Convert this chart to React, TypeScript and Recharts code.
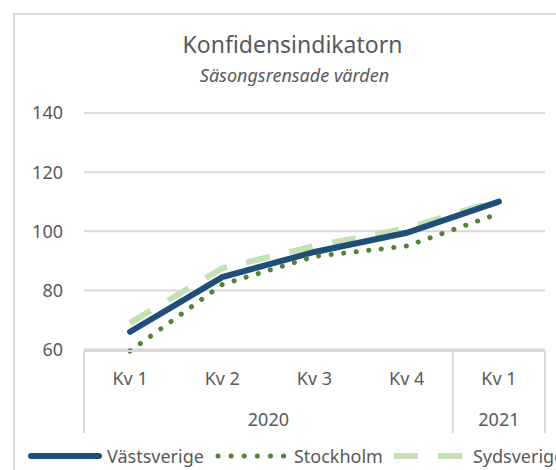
import React from 'react'
import { LineChart, Line, XAxis, YAxis, CartesianGrid, Legend } from 'recharts'

const quarters = ['Kv 1', 'Kv 2', 'Kv 3', 'Kv 4', 'Kv 1']
const years = ['2020', '2020', '2020', '2020', '2021']
const vastsverige = [66, 84.5, 93, 99.5, 110]
const stockholm = [59.5, 82, 91.5, 95, 106]
const sydsverige = [69, 87.5, 95, 101, 110.5]
const yTicks = [60, 80, 100, 120, 140]

const data = quarters.map((q, i) => ({
  q,
  year: years[i],
  Västsverige: vastsverige[i],
  Stockholm: stockholm[i],
  Sydsverige: sydsverige[i]
}))

const FONT = '"Noto Sans", "Open Sans", sans-serif'
const TEXT = '#595959'
const GRID = '#d9d9d9'

const W = 556
const H = 470
const Y_W = 84
const M_RIGHT = 11
const PLOT_W = W - Y_W - M_RIGHT
const HALF_BAND = PLOT_W / quarters.length / 2

const series = [
  { key: 'Västsverige', color: '#1f4e79', width: 6, dash: undefined as string | undefined, cap: 'round' as const },
  { key: 'Stockholm', color: '#548235', width: 5, dash: '0.1 13', cap: 'round' as const },
  { key: 'Sydsverige', color: '#c5e0b4', width: 6, dash: '24 20', cap: 'butt' as const }
]

// two level category axis: quarter on top, year below, with group separators
function QuarterTick(props: any) {
  const { x, y, index, payload } = props
  const band = HALF_BAND * 2
  const year = years[index]
  const first = index === 0 || years[index - 1] !== year
  const last = index === years.length - 1
  let size = 0
  for (let j = index; j < years.length && years[j] === year; j++) size++
  return (
    <g>
      <text x={x} y={y + 34} textAnchor="middle" fill={TEXT} fontSize={18} fontFamily={FONT}>
        {payload.value}
      </text>
      {first && (
        <>
          <text x={x + ((size - 1) / 2) * band} y={y + 75} textAnchor="middle" fill={TEXT} fontSize={18} fontFamily={FONT}>
            {year}
          </text>
          <line x1={x - band / 2} x2={x - band / 2} y1={y} y2={y + 82} stroke={GRID} strokeWidth={2} />
        </>
      )}
      {last && <line x1={x + band / 2} x2={x + band / 2} y1={y} y2={y + 82} stroke={GRID} strokeWidth={2} />}
    </g>
  )
}

function LegendContent() {
  return (
    <div style={{ height: 28, paddingLeft: 28, display: 'flex', alignItems: 'center', whiteSpace: 'nowrap', fontFamily: FONT, fontSize: 18, color: TEXT }}>
      {series.map(s => (
        <span key={s.key} style={{ display: 'flex', alignItems: 'center', marginRight: 11 }}>
          <svg width={74} height={12} style={{ marginRight: 5 }}>
            <line x1={s.cap === 'round' ? 3 : 0} x2={s.cap === 'round' ? 71 : 74} y1={6} y2={6} stroke={s.color} strokeWidth={s.width}
              strokeDasharray={s.dash} strokeLinecap={s.cap} />
          </svg>
          {s.key}
        </span>
      ))}
    </div>
  )
}

export default function App() {
  return (
    <div style={{ position: 'absolute', left: 0, top: 0, width: W, height: H, overflow: 'hidden', background: '#fff' }}>
      <div style={{ position: 'absolute', left: 13, top: 13, width: 600, height: 600, border: `2px solid ${GRID}` }} />
      <div style={{ position: 'absolute', left: 0, width: 585, top: 33, lineHeight: '23px', textAlign: 'center', fontFamily: FONT, fontSize: 23, color: TEXT }}>
        Konfidensindikatorn
      </div>
      <div style={{ position: 'absolute', left: 0, width: 589, top: 66, lineHeight: '18px', textAlign: 'center', fontFamily: FONT, fontSize: 18, fontStyle: 'italic', color: TEXT }}>
        Säsongsrensade värden
      </div>
      <div style={{ position: 'absolute', left: 0, top: 0 }}>
        <LineChart width={W} height={H} data={data} margin={{ top: 113, right: M_RIGHT, left: 0, bottom: 0 }}>
          <CartesianGrid vertical={false} stroke={GRID} strokeWidth={2} />
          <XAxis dataKey="q" height={91} padding={{ left: HALF_BAND, right: HALF_BAND }} axisLine={{ stroke: GRID, strokeWidth: 2 }}
            tickLine={false} tickSize={0} tickMargin={0} interval={0} tick={<QuarterTick />} />
          <YAxis domain={[60, 140]} ticks={yTicks} width={Y_W} axisLine={false} tickLine={false} tickSize={0} tickMargin={21}
            tick={{ fill: TEXT, fontSize: 18, fontFamily: FONT }} />
          <Legend verticalAlign="bottom" align="left" wrapperStyle={{ left: 0, width: W }} content={<LegendContent />} />
          <Line dataKey="Sydsverige" stroke="#c5e0b4" strokeWidth={6} strokeDasharray="24 20" dot={false} isAnimationActive={false} />
          <Line dataKey="Västsverige" stroke="#1f4e79" strokeWidth={6} strokeLinecap="round" dot={false} isAnimationActive={false} />
          <Line dataKey="Stockholm" stroke="#548235" strokeWidth={5} strokeDasharray="0.1 12.5" strokeLinecap="round" dot={false} isAnimationActive={false} />
        </LineChart>
      </div>
    </div>
  )
}
